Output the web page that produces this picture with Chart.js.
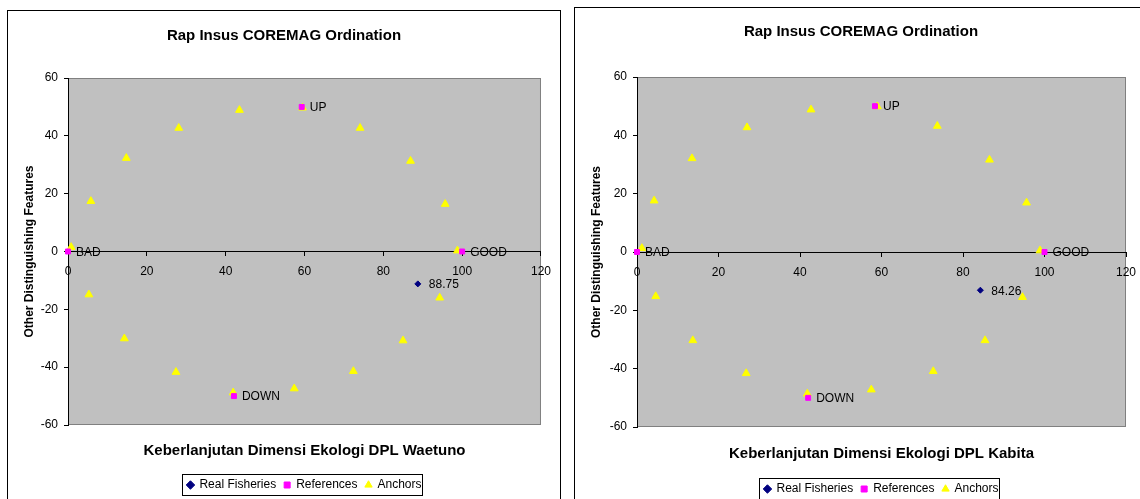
<!DOCTYPE html>
<html>
<head>
<meta charset="utf-8">
<script src="https://cdn.jsdelivr.net/npm/chart.js@4.4.1/dist/chart.umd.min.js"></script>
<style>
  body { margin: 0; background: #fff; width: 1140px; height: 499px; overflow: hidden; position: relative; }
  .frame { position: absolute; border: 1px solid #000; background: #fff; }
  #f1 { left: 7px; top: 10px; }
  #f2 { left: 574px; top: 7px; }
  canvas { display: block; }
</style>
</head>
<body>
<div class="frame" id="f1"><canvas id="c1" width="552" height="490"></canvas></div>
<div class="frame" id="f2"><canvas id="c2" width="572" height="497"></canvas></div>
<script>
// shared text + ticks
const chartTitle = "Rap Insus COREMAG Ordination";
const yTitle = "Other Distinguishing Features";
const legendNames = ["Real Fisheries", "References", "Anchors"];
const xTicks = [0, 20, 40, 60, 80, 100, 120];
const yTicks = [-60, -40, -20, 0, 20, 40, 60];
const refLabels = ["BAD", "GOOD", "UP", "DOWN"];

// DPL Waetuno
const waetunoRealX = [88.75];
const waetunoRealY = [-11.2];
const waetunoRealLabels = ["88.75"];
const waetunoRefX = [0, 100, 59.3, 42.1];
const waetunoRefY = [0, 0, 50, -50];
const waetunoAnchorX = [0.8, 5.8, 14.8, 28.1, 43.5, 59.5, 74.1, 86.9, 95.7, 98.8, 94.3, 85.0, 72.4, 57.4, 41.9, 27.4, 14.3, 5.3];
const waetunoAnchorY = [1.5, 17.4, 32.3, 42.7, 48.9, 49.7, 42.7, 31.3, 16.4, 0.3, -16.0, -30.8, -41.4, -47.4, -48.8, -41.7, -30.1, -14.9];

// DPL Kabita
const kabitaRealX = [84.26];
const kabitaRealY = [-13.1];
const kabitaRealLabels = ["84.26"];
const kabitaRefX = [0, 100, 58.4, 42.0];
const kabitaRefY = [0, 0, 50, -50];
const kabitaAnchorX = [1.2, 4.2, 13.5, 27.0, 42.7, 59.0, 73.7, 86.5, 95.6, 98.9, 94.6, 85.4, 72.7, 57.5, 41.8, 26.8, 13.7, 4.6];
const kabitaAnchorY = [1.3, 17.6, 32.1, 42.7, 48.8, 49.9, 43.2, 31.6, 16.9, 0.5, -15.5, -30.3, -40.9, -47.2, -48.6, -41.6, -30.3, -15.2];

Chart.defaults.font.family = "'Liberation Sans', Arial, sans-serif";
Chart.defaults.color = "#000";

// grey plot area like excel
const plotBg = {
  id: "plotBg",
  beforeDraw(chart) {
    const a = chart.chartArea, ctx = chart.ctx;
    ctx.save();
    ctx.fillStyle = "#C0C0C0";
    ctx.fillRect(a.left, a.top, a.right - a.left, a.bottom - a.top);
    ctx.strokeStyle = "#808080";
    ctx.lineWidth = 1;
    ctx.strokeRect(a.left + 0.5, a.top + 0.5, a.right - a.left - 1, a.bottom - a.top - 1);
    ctx.restore();
  }
};

// text next to points
const pointLabels = {
  id: "pointLabels",
  afterDatasetsDraw(chart) {
    const ctx = chart.ctx;
    ctx.save();
    ctx.font = "12px 'Liberation Sans', Arial, sans-serif";
    ctx.fillStyle = "#000";
    ctx.textBaseline = "middle";
    chart.data.datasets.forEach((ds, i) => {
      if (!ds.pointLabels) return;
      chart.getDatasetMeta(i).data.forEach((pt, j) => {
        ctx.fillText(ds.pointLabels[j], pt.x + ds.labelGap, pt.y + 1);
      });
    });
    ctx.restore();
  }
};

// title centred on the whole frame, legend centred under plot with a box round it
const legendBox = {
  id: "legendBox",
  afterLayout(chart) {
    const tb = chart.titleBlock;
    tb.left = 0;
    tb.right = chart.width;
    const lg = chart.legend, a = chart.chartArea;
    const dx = (a.left + a.right) / 2 - (lg.left + lg.right) / 2;
    lg.left += dx;
    lg.right += dx;
  },
  afterDraw(chart) {
    const hb = chart.legend.legendHitBoxes;
    if (!hb || !hb.length) return;
    const l = Math.min(...hb.map(h => h.left)) - 5;
    const r = Math.max(...hb.map(h => h.left + h.width)) + 1;
    const t = hb[0].top - 5;
    const b = hb[0].top + hb[0].height + 4;
    const ctx = chart.ctx;
    ctx.save();
    ctx.strokeStyle = "#000";
    ctx.lineWidth = 1;
    ctx.strokeRect(Math.round(l) + 0.5, Math.round(t) + 0.5, Math.round(r - l), Math.round(b - t));
    ctx.restore();
  }
};

function toPoints(xs, ys) {
  return xs.map((x, i) => ({ x: x, y: ys[i] }));
}

function drawOrdination(id, o) {
  return new Chart(document.getElementById(id), {
    type: "scatter",
    data: {
      datasets: [
        {
          label: legendNames[0],
          data: toPoints(o.realX, o.realY),
          pointLabels: o.realLabels, labelGap: 11,
          pointStyle: "rectRot", radius: 3, borderWidth: 1,
          backgroundColor: "#000080", borderColor: "#000080", clip: false
        },
        {
          label: legendNames[1],
          data: toPoints(o.refX, o.refY),
          pointLabels: refLabels, labelGap: 8,
          pointStyle: "rect", radius: 3.5, borderWidth: 1,
          backgroundColor: "#FF00FF", borderColor: "#FF00FF", clip: false
        },
        {
          label: legendNames[2],
          data: toPoints(o.anchorX, o.anchorY),
          pointStyle: "triangle", radius: 4.5, borderWidth: 1,
          backgroundColor: "#FFFF00", borderColor: "#FFFF00", clip: false
        }
      ]
    },
    options: {
      responsive: false,
      animation: false,
      events: [],
      layout: { padding: { left: 0, right: o.padRight, top: 0, bottom: 0 } },
      plugins: {
        tooltip: { enabled: false },
        title: {
          display: true, text: chartTitle, color: "#000",
          font: { size: 15, weight: "bold" },
          padding: { top: o.titleTop, bottom: o.titleBottom }
        },
        legend: {
          position: "bottom",
          labels: {
            usePointStyle: true, boxWidth: 6, boxHeight: 6, padding: 8,
            color: "#000", font: { size: 12 },
            sort: (a, b) => a.datasetIndex - b.datasetIndex
          }
        }
      },
      scales: {
        x: {
          type: "linear", position: { y: 0 }, min: 0, max: 120,
          afterBuildTicks: s => { s.ticks = xTicks.map(v => ({ value: v })); },
          grid: { drawOnChartArea: false, drawTicks: true, tickLength: 4, color: "#000" },
          border: { color: "#000", width: 1 },
          ticks: { color: "#000", padding: 9, font: { size: 12 } }
        },
        y: {
          type: "linear", position: "left", min: -60, max: 60,
          afterBuildTicks: s => { s.ticks = yTicks.map(v => ({ value: v })); },
          afterFit: s => { s.width = o.yWidth; },
          grid: { drawOnChartArea: false, drawTicks: true, tickLength: 4, color: "#000" },
          border: { color: "#000", width: 1 },
          ticks: { color: "#000", padding: 6, font: { size: 12 } },
          title: {
            display: true, text: yTitle, color: "#000",
            font: { size: 12, weight: "bold" },
            padding: { top: o.yTitlePad, bottom: 0 }
          }
        },
        x2: {
          type: "linear", position: "bottom", min: 0, max: 120,
          grid: { display: false, drawTicks: false },
          border: { display: false },
          ticks: { display: false },
          title: {
            display: true, text: o.xTitle, color: "#000",
            font: { size: 15, weight: "bold" },
            padding: { top: o.xTitleTop, bottom: o.xTitleBottom }
          }
        }
      }
    },
    plugins: [plotBg, pointLabels, legendBox]
  });
}

drawOrdination("c1", {
  xTitle: "Keberlanjutan Dimensi Ekologi DPL Waetuno",
  realX: waetunoRealX, realY: waetunoRealY, realLabels: waetunoRealLabels,
  refX: waetunoRefX, refY: waetunoRefY,
  anchorX: waetunoAnchorX, anchorY: waetunoAnchorY,
  padRight: 19, yWidth: 60, yTitlePad: 14,
  titleTop: 16, titleBottom: 33, xTitleTop: 17, xTitleBottom: 11
});

drawOrdination("c2", {
  xTitle: "Keberlanjutan Dimensi Ekologi DPL Kabita",
  realX: kabitaRealX, realY: kabitaRealY, realLabels: kabitaRealLabels,
  refX: kabitaRefX, refY: kabitaRefY,
  anchorX: kabitaAnchorX, anchorY: kabitaAnchorY,
  padRight: 21, yWidth: 62, yTitlePad: 14.5,
  titleTop: 15, titleBottom: 36, xTitleTop: 18, xTitleBottom: 12
});
</script>
</body>
</html>
